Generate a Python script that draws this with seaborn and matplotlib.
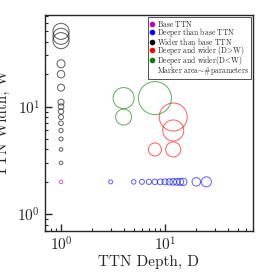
import matplotlib
matplotlib.use("Agg")
import matplotlib.pyplot as plt
import seaborn as sns
from matplotlib.lines import Line2D

# TTN shapes: depth D, width W, marker area ~ number of parameters
base_D = [1]
base_W = [2]
base_area = [6.4]

deeper_D = [3, 5, 6, 7, 8, 9, 10, 11, 12, 13, 14, 15, 20, 25]
deeper_W = [2, 2, 2, 2, 2, 2, 2, 2, 2, 2, 2, 2, 2, 2]
deeper_area = [8.3, 10.5, 13, 14, 15.7, 17.4, 18.7, 20.6, 22.6, 24, 25.4, 27.6, 37.5, 52]

wider_D = [1, 1, 1, 1, 1, 1, 1, 1, 1, 1, 1, 1, 1, 1, 1]
wider_W = [3, 4, 5, 6, 7, 8, 9, 10, 11, 15, 20, 25, 41, 45, 50]
wider_area = [6.4, 7.1, 8.3, 9.6, 11, 13, 14.6, 16.3, 18.7, 25.4, 29, 33, 135, 135, 135]

dw_D = [12, 12, 8, 12]
dw_W = [8, 6, 4, 4]
dw_area = [406, 229, 88, 117]

wd_D = [4, 4, 8]
wd_W = [12, 8, 12]
wd_area = [229, 133, 565]

labels = [r"$\mathrm{Base\ TTN}$", r"$\mathrm{Deeper\ than\ base\ TTN}$",
          r"$\mathrm{Wider\ than\ base\ TTN}$",
          r"$\mathrm{Deeper\ and\ wider\ (D}\!>\!\mathrm{W)}$",
          r"$\mathrm{Deeper\ and\ wider(D}\!<\!\mathrm{W)}$",
          r"$\mathrm{Marker\ area}\!\sim\!\#\mathrm{parameters}$"]
colors = ["m", "b", "k", "r", "g"]

sns.set_style("ticks")
plt.rcParams["font.family"] = "serif"
plt.rcParams["font.serif"] = ["cmr10"]
plt.rcParams["mathtext.fontset"] = "cm"
plt.rcParams["axes.formatter.use_mathtext"] = True

fig = plt.figure(figsize=(2.69, 2.72), dpi=100)
ax = fig.add_axes([0.167, 0.151, 0.773, 0.794])

groups = [(base_D, base_W, base_area), (deeper_D, deeper_W, deeper_area),
          (wider_D, wider_W, wider_area), (dw_D, dw_W, dw_area), (wd_D, wd_W, wd_area)]
for (d, w, a), c in zip(groups, colors):
    sns.scatterplot(x=d, y=w, s=a, color=c, facecolor="none", edgecolor=c,
                    linewidth=0.75, alpha=0.6, ax=ax, legend=False)

ax.set_xscale("log")
ax.set_yscale("log")
ax.set_xlim(0.7, 70)
ax.set_ylim(0.7, 71)
ax.set_xlabel("TTN Depth, D", fontsize=11, labelpad=1)
ax.set_ylabel("TTN Width, W", fontsize=11, labelpad=5)
ax.tick_params(which="both", direction="in", top=False, right=False, labelsize=11)
ax.tick_params(which="major", length=5, width=1)
ax.tick_params(which="minor", length=2.5, width=0.8)
for sp in ax.spines.values():
    sp.set_linewidth(1.0)

handles = [Line2D([], [], marker="o", ls="", color=c, markersize=3) for c in colors]
handles.append(Line2D([], [], ls="", marker=""))
leg = ax.legend(handles, labels, loc="upper right",
                fontsize=5.5, frameon=True, fancybox=False, edgecolor="k",
                handlelength=0.6, handletextpad=0.3, labelspacing=-0.4,
                borderpad=0.25, borderaxespad=0.3)
leg.get_frame().set_linewidth(0.6)

fig.savefig("out.png", dpi=100)
